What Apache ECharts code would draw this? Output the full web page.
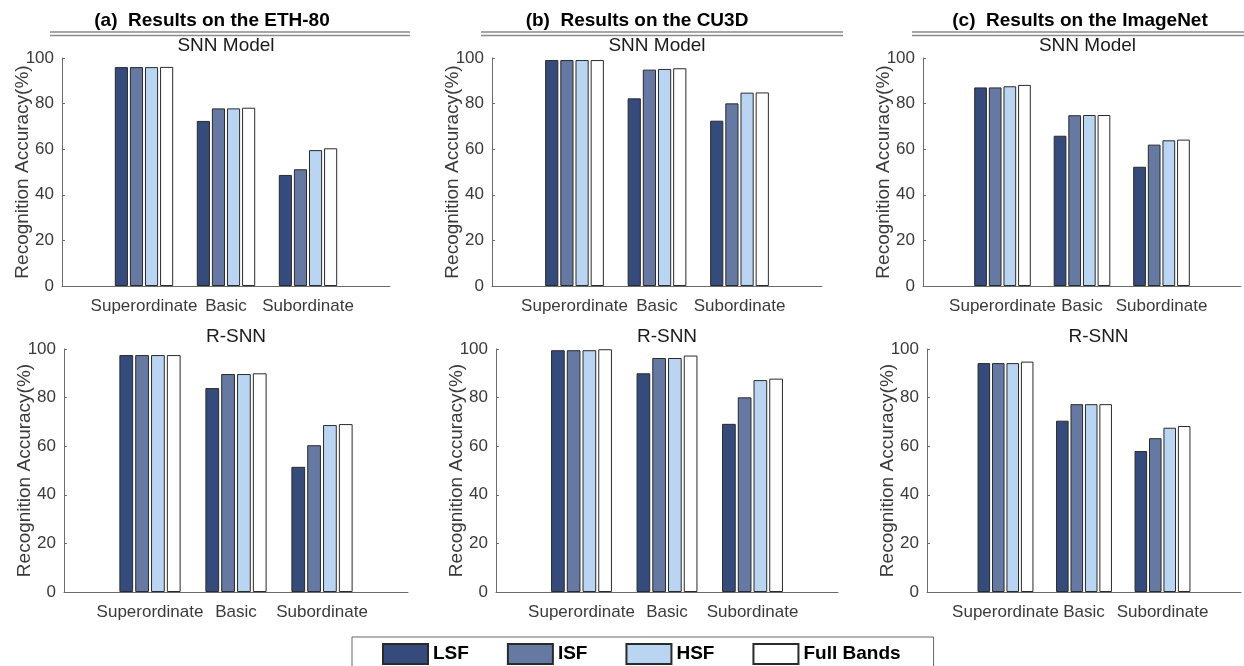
<!DOCTYPE html>
<html>
<head>
<meta charset="utf-8">
<script src="https://cdn.jsdelivr.net/npm/echarts@6/dist/echarts.min.js"></script>
<style>
html,body{margin:0;padding:0;background:#fff;}
#chart{width:1244px;height:666px;}
</style>
</head>
<body>
<div id="chart"></div>
<script>
// ---------- data ----------
const categories = ['', 'Superordinate', 'Basic', 'Subordinate', ''];
const bands = ['LSF', 'ISF', 'HSF', 'Full Bands'];
const yTicks = [0, 20, 40, 60, 80, 100];

// (a) ETH-80, SNN Model  [Superordinate, Basic, Subordinate]
const eth80SnnLSF  = [96.0, 72.4, 48.7];
const eth80SnnISF  = [96.0, 77.9, 51.2];
const eth80SnnHSF  = [96.0, 77.9, 59.6];
const eth80SnnFull = [96.1, 78.2, 60.4];
// (a) ETH-80, R-SNN
const eth80RsnnLSF  = [97.5, 83.9, 51.5];
const eth80RsnnISF  = [97.5, 89.7, 60.4];
const eth80RsnnHSF  = [97.5, 89.7, 68.7];
const eth80RsnnFull = [97.5, 90.0, 69.1];
// (b) CU3D, SNN Model
const cu3dSnnLSF  = [99.1, 82.3, 72.5];
const cu3dSnnISF  = [99.1, 94.9, 80.1];
const cu3dSnnHSF  = [99.1, 95.2, 84.8];
const cu3dSnnFull = [99.1, 95.5, 84.9];
// (b) CU3D, R-SNN
const cu3dRsnnLSF  = [99.5, 90.0, 69.2];
const cu3dRsnnISF  = [99.5, 96.3, 80.1];
const cu3dRsnnHSF  = [99.5, 96.3, 87.2];
const cu3dRsnnFull = [99.9, 97.3, 87.8];
// (c) ImageNet, SNN Model
const imnetSnnLSF  = [87.1, 65.9, 52.3];
const imnetSnnISF  = [87.1, 74.9, 62.0];
const imnetSnnHSF  = [87.6, 75.0, 63.9];
const imnetSnnFull = [88.2, 75.0, 64.2];
// (c) ImageNet, R-SNN
const imnetRsnnLSF  = [94.2, 70.5, 58.0];
const imnetRsnnISF  = [94.2, 77.3, 63.3];
const imnetRsnnHSF  = [94.2, 77.3, 67.6];
const imnetRsnnFull = [94.8, 77.3, 68.3];

const panelTitles = ['(a)  Results on the ETH-80', '(b)  Results on the CU3D', '(c)  Results on the ImageNet'];
const rowTitles = ['SNN Model', 'R-SNN'];

// ---------- layout / style ----------
const panelData = [
  [eth80SnnLSF, eth80SnnISF, eth80SnnHSF, eth80SnnFull],
  [cu3dSnnLSF, cu3dSnnISF, cu3dSnnHSF, cu3dSnnFull],
  [imnetSnnLSF, imnetSnnISF, imnetSnnHSF, imnetSnnFull],
  [eth80RsnnLSF, eth80RsnnISF, eth80RsnnHSF, eth80RsnnFull],
  [cu3dRsnnLSF, cu3dRsnnISF, cu3dRsnnHSF, cu3dRsnnFull],
  [imnetRsnnLSF, imnetRsnnISF, imnetRsnnHSF, imnetRsnnFull]
];
const grids = [
  {left: 62,  top: 58,  width: 328, height: 228},
  {left: 492, top: 58,  width: 330, height: 228},
  {left: 923, top: 58,  width: 329, height: 228},
  {left: 64,  top: 349, width: 344, height: 243},
  {left: 496, top: 349, width: 342, height: 243},
  {left: 927, top: 349, width: 343, height: 243}
];
const colors = ['#344b7c', '#6579a3', '#b9d5f2', '#ffffff'];
const FONT = 'Liberation Sans, Arial, sans-serif';
const axisColor = '#6b6b6b';
const labelColor = '#3a3a3a';

const xAxes = [], yAxes = [], series = [];
grids.forEach((g, p) => {
  xAxes.push({
    type: 'category', gridIndex: p, data: categories, boundaryGap: false,
    axisLine: {lineStyle: {color: axisColor, width: 1}},
    axisTick: {show: false},
    axisLabel: {interval: 0, color: labelColor, fontSize: 17, fontFamily: FONT, margin: 12},
    splitLine: {show: false}
  });
  yAxes.push({
    type: 'value', gridIndex: p, min: yTicks[0], max: yTicks[yTicks.length - 1], interval: 20,
    name: 'Recognition Accuracy(%)', nameLocation: 'middle', nameGap: 30, nameRotate: 90,
    nameMoveOverlap: false,
    nameTextStyle: {color: labelColor, fontSize: 19, fontFamily: FONT},
    axisLine: {show: true, lineStyle: {color: axisColor, width: 1}},
    axisTick: {show: true, inside: true, length: 3, lineStyle: {color: axisColor}},
    axisLabel: {color: labelColor, fontSize: 17, fontFamily: FONT, margin: 8},
    splitLine: {show: false}
  });
  panelData[p].forEach((vals, b) => {
    series.push({
      type: 'bar', name: bands[b], xAxisIndex: p, yAxisIndex: p,
      data: vals.map((v, i) => [categories[i + 1], v]),
      barWidth: '16%', barGap: '15%',
      itemStyle: {color: colors[b], borderColor: '#2a2a2a', borderWidth: 1},
      emphasis: {disabled: true}
    });
  });
});

// titles & decorative double rules
const graphics = [];
const titleCenters = [212, 637, 1080];
const ruleSpans = [[50, 410], [481, 843], [912, 1244]];
titleCenters.forEach((cx, i) => {
  graphics.push({type: 'text', x: cx, y: 21, style: {text: panelTitles[i], fill: '#000', font: 'bold 19px ' + FONT, textAlign: 'center', textVerticalAlign: 'middle'}});
  const [x1, x2] = ruleSpans[i];
  graphics.push({type: 'line', shape: {x1: x1, y1: 32, x2: x2, y2: 32}, style: {stroke: '#8a8a8a', lineWidth: 1.5}});
  graphics.push({type: 'line', shape: {x1: x1, y1: 35.5, x2: x2, y2: 35.5}, style: {stroke: '#8a8a8a', lineWidth: 1.5}});
});
grids.forEach((g, p) => {
  const row = p < 3 ? 0 : 1;
  graphics.push({type: 'text', x: g.left + g.width / 2, y: row === 0 ? 46 : 337,
    style: {text: rowTitles[row], fill: '#1a1a1a', font: '19px ' + FONT, textAlign: 'center', textVerticalAlign: 'middle'}});
});

const chart = echarts.init(document.getElementById('chart'), null, {renderer: 'canvas'});
chart.setOption({
  animation: false,
  backgroundColor: '#ffffff',
  grid: grids,
  xAxis: xAxes,
  yAxis: yAxes,
  series: series,
  legend: {
    data: bands, left: 352, top: 637, orient: 'horizontal',
    icon: 'rect', itemWidth: 45, itemHeight: 20, itemGap: 38,
    padding: [6, 33, 14, 30],
    borderColor: '#666', borderWidth: 1,
    textStyle: {color: '#000', fontSize: 19, fontWeight: 'bold', fontFamily: FONT}
  },
  graphic: graphics
});
</script>
</body>
</html>
